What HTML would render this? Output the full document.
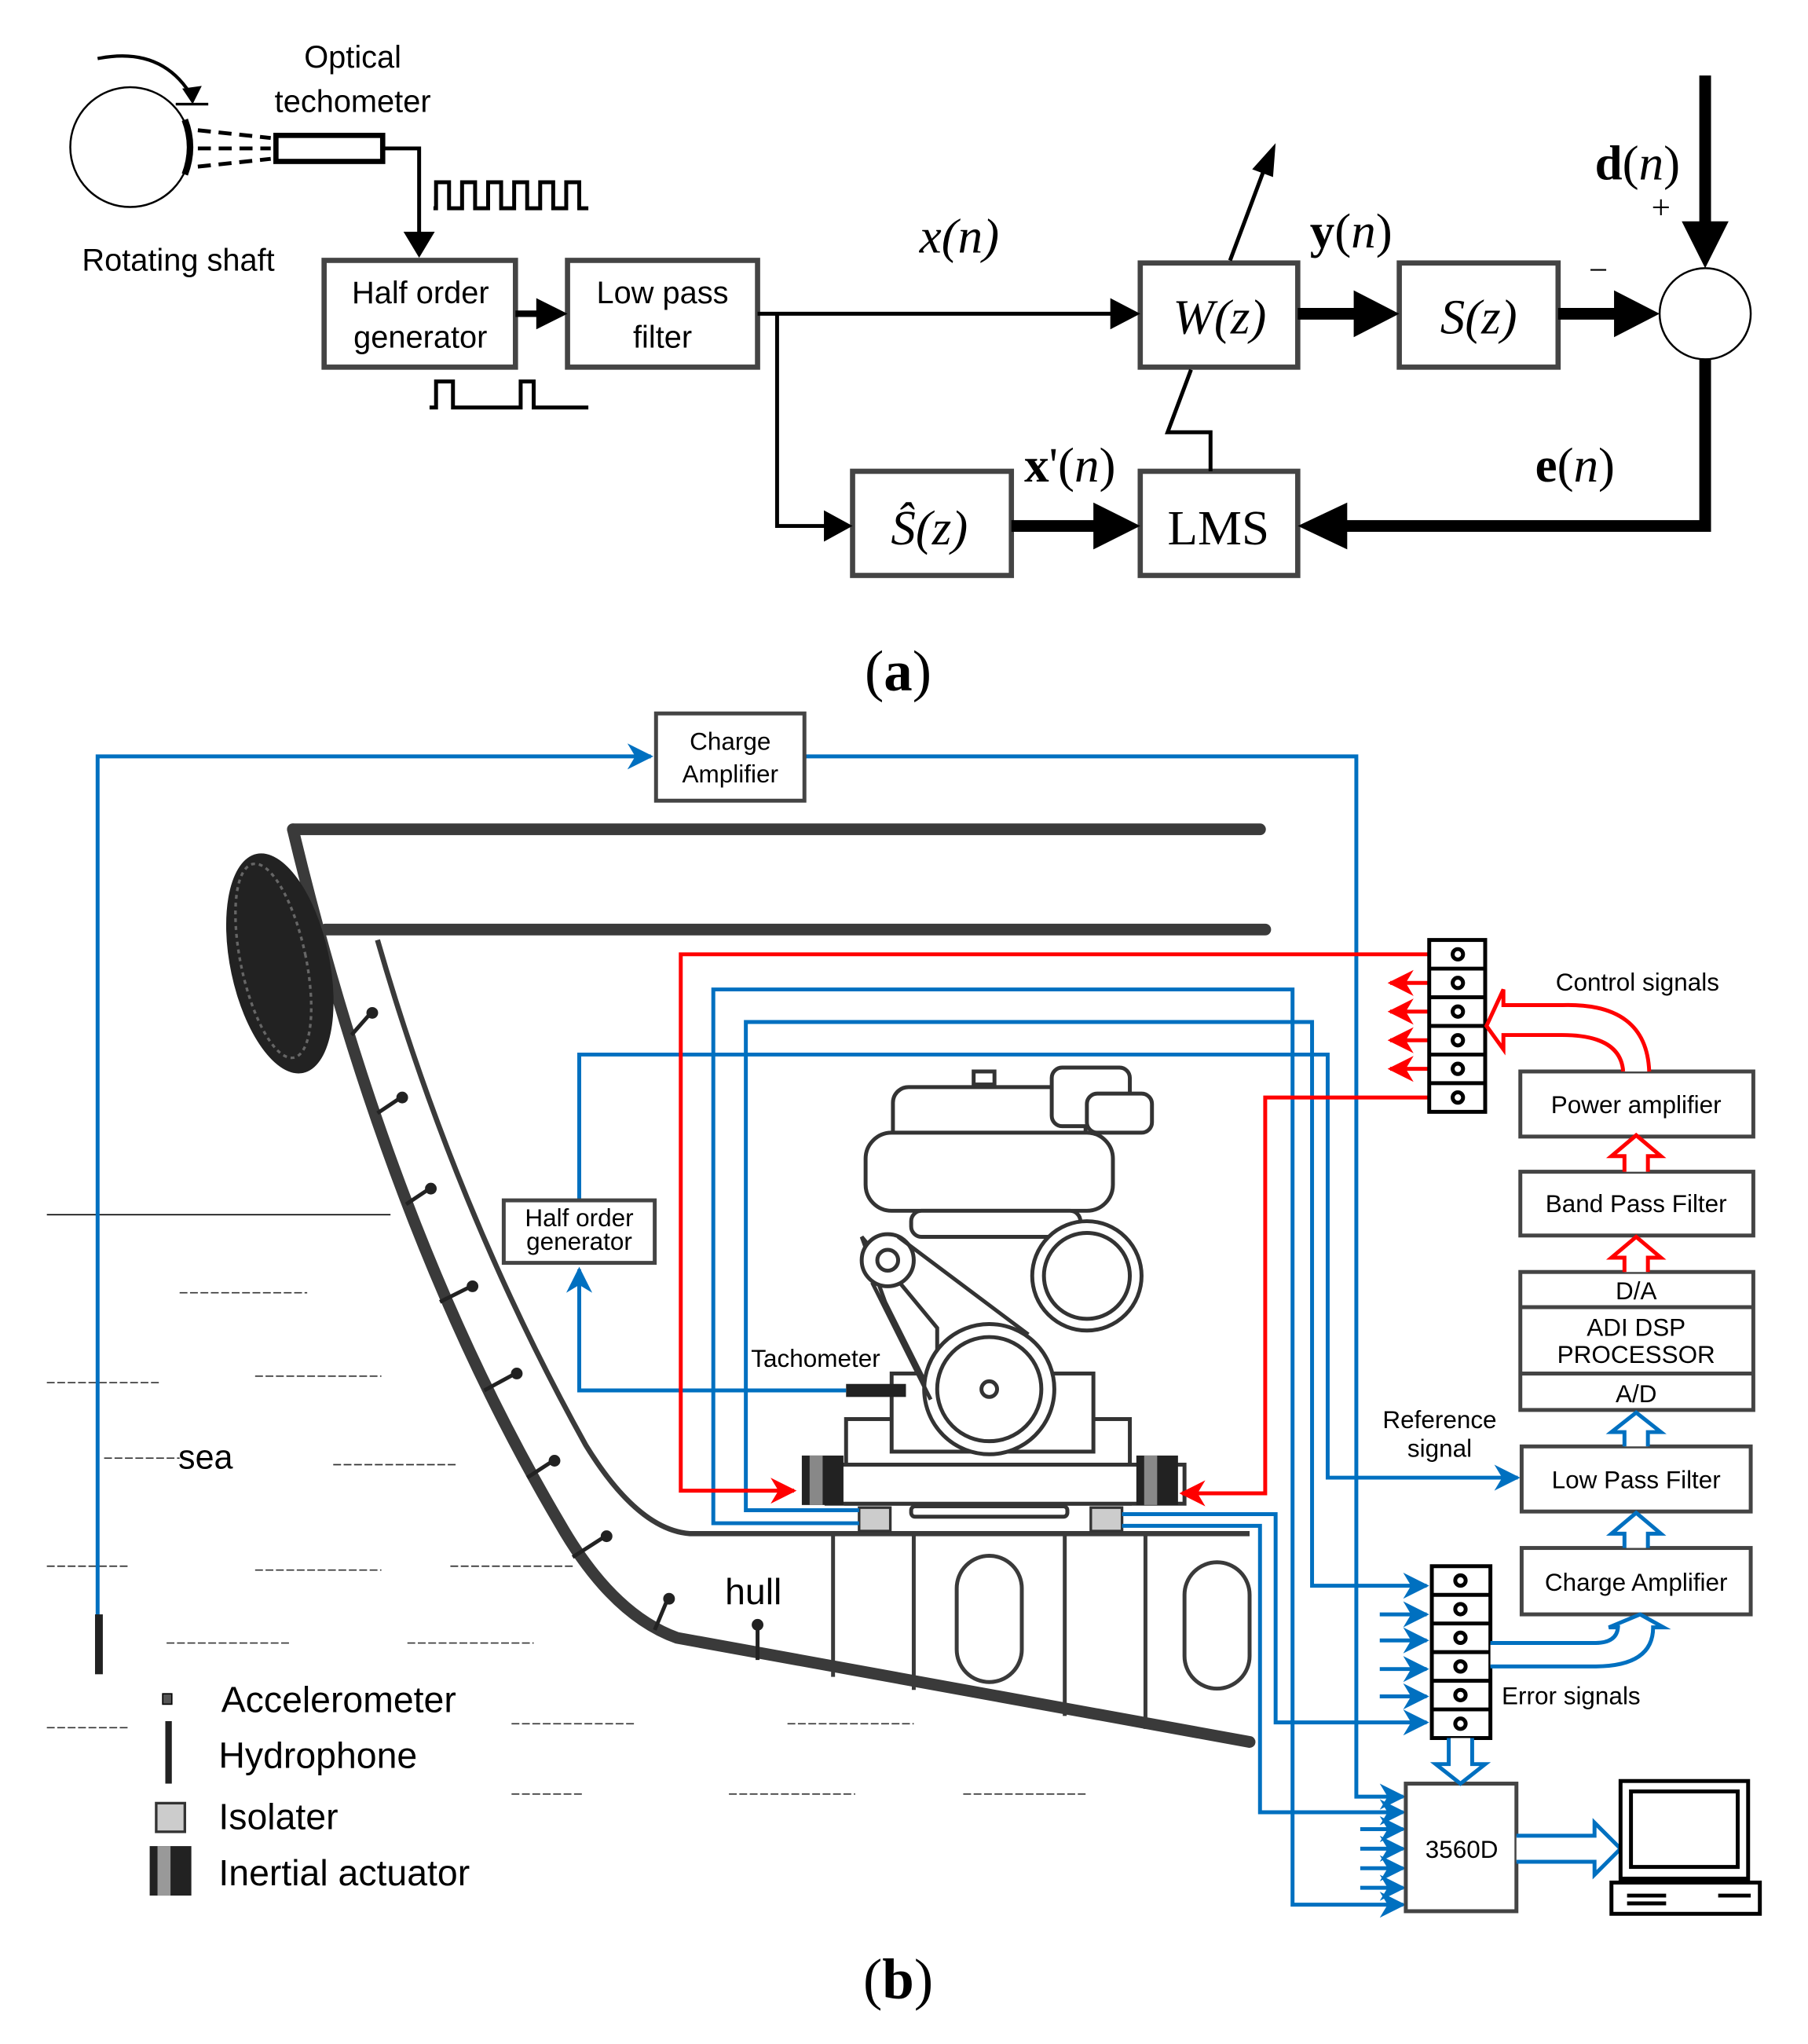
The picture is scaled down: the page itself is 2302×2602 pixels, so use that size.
<!DOCTYPE html>
<html><head><meta charset="utf-8"><style>
html,body{margin:0;padding:0;background:#fff;}
svg{display:block;}
.s{font-family:"Liberation Sans",sans-serif;}
.m{font-family:"Liberation Serif",serif;}
</style></head><body>
<svg width="2302" height="2602" viewBox="0 0 1389 1570" preserveAspectRatio="none" xmlns="http://www.w3.org/2000/svg">
<defs>
<marker id="ab" viewBox="0 0 10 10" markerWidth="20" markerHeight="20" refX="9" refY="5" orient="auto" markerUnits="userSpaceOnUse"><path d="M0,0 L10,5 L0,10 L3,5z" fill="#0070c0"/></marker>
<marker id="ar" viewBox="0 0 10 10" markerWidth="20" markerHeight="20" refX="9" refY="5" orient="auto" markerUnits="userSpaceOnUse"><path d="M0,0 L10,5 L0,10 L3,5z" fill="#f00"/></marker>
</defs>
<rect width="1389" height="1570" fill="#fff"/>
<!-- (a) -->
<circle cx="100" cy="113" r="46" fill="none" stroke="#000" stroke-width="1.5"/>
<path d="M75,45 Q125,35 148,75" fill="none" stroke="#000" stroke-width="2.5"/>
<path d="M140,68 L148,80 L155,66z" fill="#000"/>
<line x1="135" y1="80" x2="160" y2="80" stroke="#000" stroke-width="2"/>
<path d="M142,92 Q150,113 142,134" fill="none" stroke="#000" stroke-width="5"/>
<g stroke="#000" stroke-width="3" stroke-dasharray="10,6"><line x1="152" y1="100" x2="208" y2="106"/><line x1="152" y1="114" x2="208" y2="114"/><line x1="152" y1="128" x2="208" y2="122"/></g>
<rect x="212" y="104" width="82" height="20" fill="#fff" stroke="#000" stroke-width="4"/>
<polyline points="294,114 322,114 322,180" fill="none" stroke="#000" stroke-width="3"/>
<path d="M310,178 L322,198 L334,178z" fill="#000"/>
<polyline points="333,160 335,160 335,140 345,140 345,160 355,160 355,140 365,140 365,160 375,160 375,140 385,140 385,160 395,160 395,140 405,140 405,160 415,160 415,140 425,140 425,160 435,160 435,140 445,140 445,160 452,160" fill="none" stroke="#000" stroke-width="3"/>
<polyline points="330,313 335,313 335,293 348,293 348,313 400,313 400,293 410,293 410,313 452,313" fill="none" stroke="#000" stroke-width="3"/>
<g fill="#fff" stroke="#444" stroke-width="4">
<rect x="249" y="200" width="147" height="82"/><rect x="436" y="200" width="146" height="82"/>
<rect x="876" y="202" width="121" height="80"/><rect x="1075" y="202" width="122" height="80"/>
<rect x="655" y="362" width="122" height="80"/><rect x="876" y="362" width="121" height="80"/>
</g>
<circle cx="1310" cy="241" r="35" fill="#fff" stroke="#000" stroke-width="1.5"/>
<g class="s" font-size="24" text-anchor="middle" fill="#000">
<text x="271" y="52">Optical</text><text x="271" y="86">techometer</text>
<text x="137" y="208">Rotating shaft</text>
<text x="323" y="233">Half order</text><text x="323" y="267">generator</text>
<text x="509" y="233">Low pass</text><text x="509" y="267">filter</text>
</g>
<line x1="396" y1="241" x2="414" y2="241" stroke="#000" stroke-width="5"/><path d="M412,229 L436,241 L412,253z" fill="#000"/>
<polyline points="582,241 855,241" fill="none" stroke="#000" stroke-width="3"/><path d="M853,229 L876,241 L853,253z" fill="#000"/>
<polyline points="597,241 597,404 635,404" fill="none" stroke="#000" stroke-width="3"/><path d="M633,392 L655,404 L633,416z" fill="#000"/>
<line x1="997" y1="241" x2="1048" y2="241" stroke="#000" stroke-width="9"/><path d="M1040,223 L1075,241 L1040,259z" fill="#000"/>
<line x1="1197" y1="241" x2="1245" y2="241" stroke="#000" stroke-width="9"/><path d="M1240,223 L1275,241 L1240,259z" fill="#000"/>
<line x1="1310" y1="58" x2="1310" y2="175" stroke="#000" stroke-width="9"/><path d="M1292,170 L1310,206 L1328,170z" fill="#000"/>
<polyline points="1310,276 1310,404 1030,404" fill="none" stroke="#000" stroke-width="9"/><path d="M1035,386 L997,404 L1035,422z" fill="#000"/>
<line x1="777" y1="404" x2="845" y2="404" stroke="#000" stroke-width="9"/><path d="M840,386 L876,404 L840,422z" fill="#000"/>
<line x1="945" y1="200" x2="972" y2="128" stroke="#000" stroke-width="3"/><path d="M962,130 L980,110 L978,136z" fill="#000"/>
<polyline points="930,362 930,332 897,332 915,284" fill="none" stroke="#000" stroke-width="3"/>
<g class="m" font-size="38" text-anchor="middle" fill="#000">
<text x="737" y="194" font-style="italic">x(n)</text>
<text x="1038" y="190"><tspan font-weight="bold">y</tspan>(<tspan font-style="italic">n</tspan>)</text>
<text x="1258" y="138"><tspan font-weight="bold">d</tspan>(<tspan font-style="italic">n</tspan>)</text>
<text x="1210" y="370"><tspan font-weight="bold">e</tspan>(<tspan font-style="italic">n</tspan>)</text>
<text x="822" y="370"><tspan font-weight="bold">x</tspan>'(<tspan font-style="italic">n</tspan>)</text>
<text x="937" y="256" font-style="italic">W(z)</text>
<text x="1136" y="256" font-style="italic">S(z)</text>
<text x="714" y="418" font-style="italic">Ŝ(z)</text>
<text x="936" y="418">LMS</text>
<text x="690" y="530" font-size="44">(<tspan font-weight="bold">a</tspan>)</text>
<text x="690" y="1535" font-size="44">(<tspan font-weight="bold">b</tspan>)</text>
</g>
<text x="1276" y="168" class="m" font-size="26" text-anchor="middle">+</text>
<text x="1228" y="216" class="m" font-size="26" text-anchor="middle">−</text>

<!-- (b) hull -->
<line x1="225" y1="637" x2="968" y2="637" stroke="#3a3a3a" stroke-width="9" stroke-linecap="round"/>
<line x1="250" y1="714" x2="972" y2="714" stroke="#3a3a3a" stroke-width="9" stroke-linecap="round"/>
<path d="M225,637 Q300,950 430,1170 Q470,1240 520,1258 L960,1338" fill="none" stroke="#3a3a3a" stroke-width="9" stroke-linecap="round"/>
<path d="M290,722 Q350,930 450,1110 Q490,1175 530,1178 L960,1178" fill="none" stroke="#3a3a3a" stroke-width="4"/>
<ellipse cx="215" cy="740" rx="38" ry="86" transform="rotate(-12 215 740)" fill="#222"/>
<ellipse cx="210" cy="738" rx="25" ry="76" transform="rotate(-12 210 738)" fill="none" stroke="#666" stroke-width="2" stroke-dasharray="3,3"/>
<g stroke="#222" stroke-width="3" fill="#222">
<line x1="270" y1="795" x2="285" y2="778"/><circle cx="286" cy="778" r="3"/>
<line x1="290" y1="855" x2="308" y2="843"/><circle cx="309" cy="843" r="3"/>
<line x1="312" y1="925" x2="330" y2="913"/><circle cx="331" cy="913" r="3"/>
<line x1="338" y1="1000" x2="362" y2="988"/><circle cx="363" cy="988" r="3"/>
<line x1="372" y1="1068" x2="396" y2="1055"/><circle cx="397" cy="1055" r="3"/>
<line x1="405" y1="1135" x2="425" y2="1122"/><circle cx="426" cy="1122" r="3"/>
<line x1="440" y1="1196" x2="465" y2="1180"/><circle cx="466" cy="1180" r="3"/>
<line x1="503" y1="1252" x2="513" y2="1228"/><circle cx="514" cy="1228" r="3"/>
<line x1="582" y1="1275" x2="582" y2="1248"/><circle cx="582" cy="1248" r="3"/>
</g>
<g fill="none" stroke="#3a3a3a" stroke-width="3">
<line x1="640" y1="1178" x2="640" y2="1288"/><line x1="702" y1="1178" x2="702" y2="1298"/>
<line x1="818" y1="1178" x2="818" y2="1318"/><line x1="880" y1="1178" x2="880" y2="1328"/>
<rect x="735" y="1195" width="50" height="97" rx="25"/><rect x="910" y="1200" width="50" height="97" rx="25"/>
</g>
<line x1="36" y1="933" x2="300" y2="933" stroke="#000" stroke-width="1"/>
<g stroke="#333" stroke-width="1" stroke-dasharray="6,2">
<line x1="138" y1="993" x2="236" y2="993"/><line x1="36" y1="1062" x2="124" y2="1062"/><line x1="196" y1="1057" x2="293" y2="1057"/>
<line x1="80" y1="1120" x2="138" y2="1120"/><line x1="256" y1="1125" x2="352" y2="1125"/>
<line x1="36" y1="1203" x2="100" y2="1203"/><line x1="196" y1="1206" x2="293" y2="1206"/><line x1="346" y1="1203" x2="440" y2="1203"/>
<line x1="128" y1="1262" x2="224" y2="1262"/><line x1="313" y1="1262" x2="410" y2="1262"/>
<line x1="36" y1="1327" x2="100" y2="1327"/><line x1="393" y1="1324" x2="488" y2="1324"/><line x1="605" y1="1324" x2="702" y2="1324"/>
<line x1="393" y1="1378" x2="448" y2="1378"/><line x1="560" y1="1378" x2="657" y2="1378"/><line x1="740" y1="1378" x2="836" y2="1378"/>
</g>
<text x="137" y="1128" class="s" font-size="26">sea</text>
<text x="557" y="1232" class="s" font-size="28">hull</text>
<!-- engine -->
<g fill="#fff" stroke="#333" stroke-width="3">
<rect x="650" y="1090" width="218" height="65"/>
<rect x="685" y="1055" width="155" height="60"/>
<rect x="635" y="1125" width="275" height="30"/>
<rect x="686" y="835" width="148" height="50" rx="12"/>
<rect x="808" y="820" width="60" height="45" rx="8"/>
<rect x="835" y="840" width="50" height="30" rx="8"/>
<rect x="665" y="870" width="190" height="60" rx="20"/>
<rect x="700" y="930" width="130" height="20" rx="8"/>
<circle cx="835" cy="980" r="42"/><circle cx="835" cy="980" r="33"/>
<path d="M662,950 L720,1020 L720,1080 L680,1000z"/>
<circle cx="760" cy="1067" r="50"/><circle cx="760" cy="1067" r="40"/><circle cx="760" cy="1067" r="6"/>
<circle cx="682" cy="968" r="20"/><circle cx="682" cy="968" r="8"/>
<line x1="690" y1="950" x2="790" y2="1025"/><line x1="670" y1="985" x2="715" y2="1075"/>
<rect x="748" y="823" width="16" height="10"/>
<rect x="700" y="1157" width="120" height="8" rx="3"/>
</g>
<rect x="616" y="1118" width="32" height="38" fill="#222"/><rect x="622" y="1118" width="10" height="38" fill="#888"/>
<rect x="873" y="1118" width="32" height="38" fill="#222"/><rect x="879" y="1118" width="10" height="38" fill="#888"/>
<rect x="660" y="1158" width="24" height="18" fill="#ccc" stroke="#333" stroke-width="2"/>
<rect x="838" y="1158" width="24" height="18" fill="#ccc" stroke="#333" stroke-width="2"/>
<rect x="650" y="1063" width="46" height="10" fill="#222"/>
<text x="577" y="1050" class="s" font-size="19">Tachometer</text>
<!-- blue lines -->
<g fill="none" stroke="#0070c0" stroke-width="3">
<polyline points="75,1285 75,581 500,581" marker-end="url(#ab)"/>
<polyline points="618,581 1042,581 1042,1380 1078,1380" marker-end="url(#ab)"/>
<polyline points="445,922 445,810 1020,810 1020,1135 1166,1135" marker-end="url(#ab)"/>
<polyline points="650,1068 445,1068 445,975" marker-end="url(#ab)"/>
<polyline points="660,1170 548,1170 548,760 993,760 993,1463 1078,1463" marker-end="url(#ab)"/>
<polyline points="660,1160 573,1160 573,785 1008,785 1008,1218 1096,1218" marker-end="url(#ab)"/>
<polyline points="862,1163 980,1163 980,1323 1096,1323" marker-end="url(#ab)"/>
<polyline points="862,1172 968,1172 968,1392 1078,1392" marker-end="url(#ab)"/>
<line x1="1060" y1="1240" x2="1096" y2="1240" marker-end="url(#ab)"/>
<line x1="1060" y1="1260" x2="1096" y2="1260" marker-end="url(#ab)"/>
<line x1="1060" y1="1282" x2="1096" y2="1282" marker-end="url(#ab)"/>
<line x1="1060" y1="1303" x2="1096" y2="1303" marker-end="url(#ab)"/>
<line x1="1045" y1="1405" x2="1078" y2="1405" marker-end="url(#ab)"/>
<line x1="1045" y1="1420" x2="1078" y2="1420" marker-end="url(#ab)"/>
<line x1="1045" y1="1435" x2="1078" y2="1435" marker-end="url(#ab)"/>
<line x1="1045" y1="1450" x2="1078" y2="1450" marker-end="url(#ab)"/>
</g>
<!-- red lines -->
<g fill="none" stroke="#f00" stroke-width="3">
<polyline points="1098,733 523,733 523,1145 610,1145" marker-end="url(#ar)"/>
<polyline points="1098,843 972,843 972,1147 908,1147" marker-end="url(#ar)"/>
<line x1="1098" y1="755" x2="1068" y2="755" marker-end="url(#ar)"/>
<line x1="1098" y1="777" x2="1068" y2="777" marker-end="url(#ar)"/>
<line x1="1098" y1="799" x2="1068" y2="799" marker-end="url(#ar)"/>
<line x1="1098" y1="821" x2="1068" y2="821" marker-end="url(#ar)"/>
</g>
<!-- terminal blocks -->
<g fill="#fff" stroke="#000" stroke-width="3">
<rect x="1098" y="722" width="43" height="132"/>
<line x1="1098" y1="744" x2="1141" y2="744"/><line x1="1098" y1="766" x2="1141" y2="766"/><line x1="1098" y1="788" x2="1141" y2="788"/><line x1="1098" y1="810" x2="1141" y2="810"/><line x1="1098" y1="832" x2="1141" y2="832"/>
<circle cx="1120" cy="733" r="4"/><circle cx="1120" cy="755" r="4"/><circle cx="1120" cy="777" r="4"/><circle cx="1120" cy="799" r="4"/><circle cx="1120" cy="821" r="4"/><circle cx="1120" cy="843" r="4"/>
<rect x="1100" y="1203" width="45" height="132"/>
<line x1="1100" y1="1225" x2="1145" y2="1225"/><line x1="1100" y1="1247" x2="1145" y2="1247"/><line x1="1100" y1="1269" x2="1145" y2="1269"/><line x1="1100" y1="1291" x2="1145" y2="1291"/><line x1="1100" y1="1313" x2="1145" y2="1313"/>
<circle cx="1122" cy="1214" r="4"/><circle cx="1122" cy="1236" r="4"/><circle cx="1122" cy="1258" r="4"/><circle cx="1122" cy="1280" r="4"/><circle cx="1122" cy="1302" r="4"/><circle cx="1122" cy="1324" r="4"/>
</g>
<g fill="#fff" stroke="#444" stroke-width="3">
<rect x="1168" y="823" width="179" height="50"/><rect x="1168" y="900" width="179" height="49"/>
<rect x="1168" y="977" width="179" height="106"/><line x1="1168" y1="1004" x2="1347" y2="1004"/><line x1="1168" y1="1055" x2="1347" y2="1055"/>
<rect x="1169" y="1111" width="176" height="50"/><rect x="1169" y="1189" width="176" height="51"/>
<rect x="1080" y="1370" width="85" height="98"/>
<rect x="387" y="922" width="116" height="48"/><rect x="504" y="548" width="114" height="67"/>
</g>
<g fill="#fff" stroke="#f00" stroke-width="3">
<path d="M1248,900 L1248,888 L1238,888 L1257,872 L1276,888 L1266,888 L1266,900"/>
<path d="M1248,977 L1248,966 L1238,966 L1257,950 L1276,966 L1266,966 L1266,977"/>
<path d="M1267,823 Q1265,770 1200,772 L1155,772 L1155,760 L1142,788 L1155,806 L1155,795 L1200,795 Q1245,795 1247,823" />
</g>
<g fill="#fff" stroke="#0070c0" stroke-width="3">
<path d="M1248,1111 L1248,1100 L1238,1100 L1257,1085 L1276,1100 L1266,1100 L1266,1111"/>
<path d="M1248,1189 L1248,1178 L1238,1178 L1257,1162 L1276,1178 L1266,1178 L1266,1189"/>
<path d="M1145,1262 L1225,1262 Q1242,1262 1243,1250 L1236,1250 L1260,1240 L1278,1250 L1270,1250 Q1270,1280 1225,1280 L1145,1280"/>
<path d="M1113,1335 L1113,1355 L1103,1355 L1122,1370 L1141,1355 L1131,1355 L1131,1335"/>
<path d="M1165,1410 L1225,1410 L1225,1400 L1245,1420 L1225,1440 L1225,1430 L1165,1430"/>
</g>
<g fill="#fff" stroke="#000" stroke-width="3">
<rect x="1245" y="1368" width="98" height="75"/><rect x="1253" y="1376" width="82" height="58"/>
<rect x="1238" y="1446" width="114" height="24"/>
<line x1="1250" y1="1456" x2="1280" y2="1456"/><line x1="1250" y1="1462" x2="1280" y2="1462"/><line x1="1320" y1="1456" x2="1345" y2="1456"/>
</g>
<g class="s" font-size="19" text-anchor="middle" fill="#000">
<text x="1257" y="855">Power amplifier</text>
<text x="1257" y="931">Band Pass Filter</text>
<text x="1257" y="998">D/A</text>
<text x="1257" y="1026">ADI DSP</text><text x="1257" y="1047">PROCESSOR</text>
<text x="1257" y="1077">A/D</text>
<text x="1257" y="1143">Low Pass Filter</text>
<text x="1257" y="1222">Charge Amplifier</text>
<text x="1123" y="1427">3560D</text>
<text x="1258" y="761">Control signals</text>
<text x="1106" y="1097">Reference</text><text x="1106" y="1119">signal</text>
<text x="1207" y="1309">Error signals</text>
<text x="561" y="576">Charge</text><text x="561" y="601">Amplifier</text>
<text x="445" y="942">Half order</text><text x="445" y="960">generator</text>
</g>
<rect x="73" y="1240" width="6" height="46" fill="#222"/>
<rect x="125" y="1301" width="7" height="8" fill="#555" stroke="#000"/>
<rect x="127" y="1322" width="5" height="48" fill="#222"/>
<rect x="120" y="1385" width="22" height="22" fill="#ccc" stroke="#333" stroke-width="2"/>
<rect x="115" y="1418" width="32" height="38" fill="#222"/><rect x="121" y="1418" width="10" height="38" fill="#999"/>
<g class="s" font-size="28" fill="#000">
<text x="170" y="1315">Accelerometer</text>
<text x="168" y="1358">Hydrophone</text>
<text x="168" y="1405">Isolater</text>
<text x="168" y="1448">Inertial actuator</text>
</g>
</svg>
</body></html>
